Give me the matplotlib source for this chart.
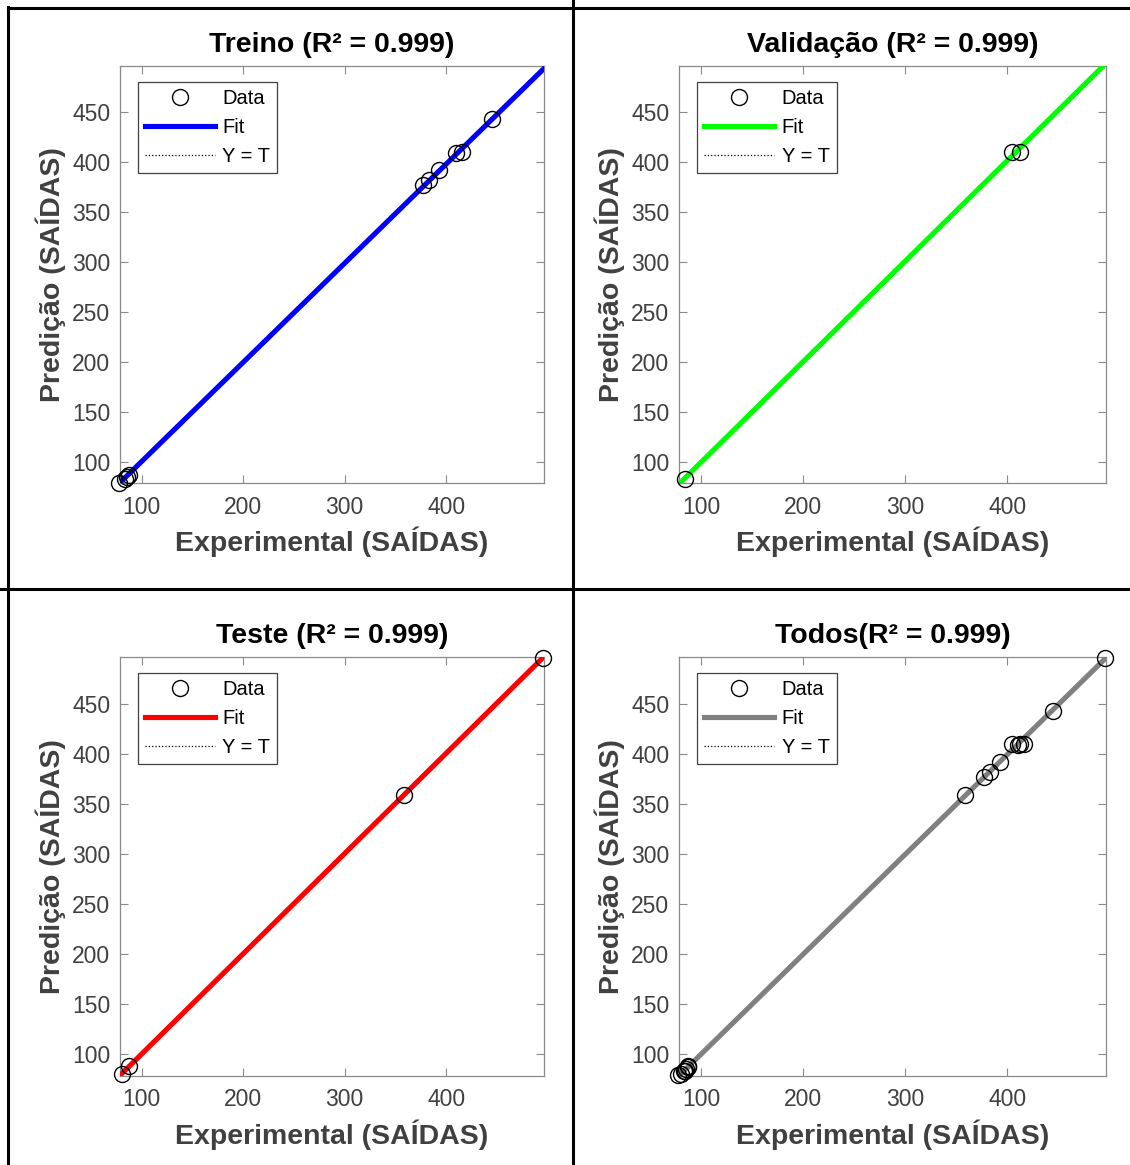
import matplotlib
matplotlib.use('Agg')
import matplotlib.pyplot as plt
from matplotlib.lines import Line2D
import numpy as np

plt.rcParams['font.family'] = ['Liberation Sans', 'DejaVu Sans']

# data (experimental = target, predicao = output)
treino_exp = [78, 83, 85, 87, 377, 383, 393, 410, 416, 445]
treino_pred = [79, 83, 85, 87, 377, 382, 392, 409, 410, 443]
valid_exp = [84, 404, 412]
valid_pred = [83, 410, 410]
teste_exp = [80, 87, 358, 496]
teste_pred = [80, 88, 359, 496]

todos_exp = treino_exp + valid_exp + teste_exp
todos_pred = treino_pred + valid_pred + teste_pred

titles = ['Treino (R² = 0.999)', 'Validação (R² = 0.999)',
          'Teste (R² = 0.999)', 'Todos(R² = 0.999)']
fit_colors = ['#0000ff', '#00ff00', '#ff0000', '#808080']
x_ticks = [100, 200, 300, 400]
y_ticks = [100, 150, 200, 250, 300, 350, 400, 450]
lim = (78.5, 496.5)

W, H = 1130, 1165
fig = plt.figure(figsize=(W / 100, H / 100), dpi=100)

# axes boxes in pixels: left, top, right, bottom
boxes = [(120, 66, 544, 483), (679, 66, 1106, 483),
         (120, 657, 544, 1076), (679, 657, 1106, 1076)]
sets = [(treino_exp, treino_pred), (valid_exp, valid_pred),
        (teste_exp, teste_pred), (todos_exp, todos_pred)]

spine_col = '#8a8a8a'
txt_col = '#404040'

for (l, t, r, b), (xe, yp), title, col in zip(boxes, sets, titles, fit_colors):
    ax = fig.add_axes([l / W, 1 - b / H, (r - l) / W, (b - t) / H])
    xe = np.array(xe, dtype=float)
    yp = np.array(yp, dtype=float)
    a, c = np.polyfit(xe, yp, 1)
    xs = np.array(lim)

    ax.plot(xe, yp, 'o', mfc='none', mec='black', ms=11.5, mew=1.0,
            label='Data', zorder=4, clip_on=False)
    ax.plot(xs, a * xs + c, '-', color=col, lw=3.7, label='Fit', zorder=3)
    ax.plot(xs, xs, ':', color='black', lw=0.9, label='Y = T', zorder=2)

    ax.set_xlim(lim)
    ax.set_ylim(lim)
    ax.set_xticks(x_ticks)
    ax.set_yticks(y_ticks)
    ax.tick_params(direction='in', length=6, width=0.8, colors=spine_col,
                   labelcolor=txt_col, labelsize=16.5, top=True, right=True)
    ax.tick_params(axis='x', pad=9)
    ax.tick_params(axis='y', pad=7)
    for s in ax.spines.values():
        s.set_color(spine_col)
        s.set_linewidth(0.9)
    ax.set_title(title, fontsize=20.5, fontweight='bold', color='black', pad=10)
    ax.set_xlabel('Experimental (SAÍDAS)', fontsize=20.5, fontweight='bold',
                  color=txt_col, labelpad=6)
    ax.set_ylabel('Predição (SAÍDAS)', fontsize=20.5, fontweight='bold',
                  color=txt_col, labelpad=4)

    leg = ax.legend(loc='upper left', bbox_to_anchor=(0.042, 0.962),
                    fontsize=14.5, handlelength=3.5, handletextpad=0.35,
                    borderpad=0.35, labelspacing=0.5, fancybox=False,
                    framealpha=1, borderaxespad=0, numpoints=1)
    leg.get_frame().set_edgecolor('#404040')
    leg.get_frame().set_linewidth(0.9)

# panel borders
lw = 2.2
fig.add_artist(Line2D([572.5 / W, 572.5 / W], [0, 1], color='black', lw=lw))
fig.add_artist(Line2D([0, 1], [1 - 589 / H, 1 - 589 / H], color='black', lw=lw))
fig.add_artist(Line2D([8 / W, 8 / W], [0, 1 - 7 / H], color='black', lw=lw))
fig.add_artist(Line2D([8 / W, 1], [1 - 8 / H, 1 - 8 / H], color='black', lw=lw))

fig.savefig('out.png', dpi=100, facecolor='white')
